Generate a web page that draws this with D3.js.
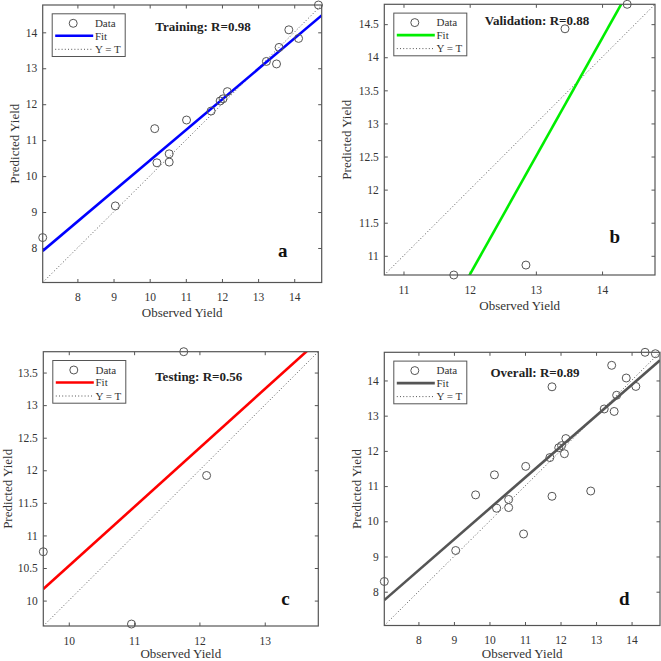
<!DOCTYPE html>
<html>
<head>
<meta charset="utf-8">
<script src="https://cdn.jsdelivr.net/npm/d3@7"></script>
<style>
  body { margin: 0; background: #fff; }
  svg text { font-family: "Liberation Serif", "Times New Roman", serif; }
</style>
</head>
<body>
<div id="chart"></div>
<script>
// observed / predicted yield per subset
const trainObs  = [7.04, 9.05, 10.14, 10.20, 10.54, 10.54, 11.02, 11.70, 11.95, 12.03, 12.15, 13.23, 13.51, 13.58, 13.85, 14.12, 14.67];
const trainPred = [8.29, 9.17, 11.32, 10.37, 10.62, 10.39, 11.56, 11.81, 12.09, 12.15, 12.35, 13.19, 13.12, 13.58, 14.07, 13.83, 14.76];
const valObs    = [11.76, 12.85, 13.44, 14.38];
const valPred   = [10.71, 10.86, 14.43, 14.80];
const testObs   = [9.61, 10.96, 11.76, 12.11];
const testPred  = [10.75, 9.64, 13.82, 11.92];

// fit lines: [slope, intercept]
const fitTrain = [0.849, 1.94];
const fitVal   = [1.786, -10.72];
const fitTest  = [0.905, 1.48];
const fitAll   = [0.878, 1.58];

const titles  = ['Training: R=0.98', 'Validation: R=0.88', 'Testing: R=0.56', 'Overall: R=0.89'];
const letters = ['a', 'b', 'c', 'd'];

const ticksA = [8, 9, 10, 11, 12, 13, 14];
const ticksBx = [11, 12, 13, 14];
const ticksBy = [11, 11.5, 12, 12.5, 13, 13.5, 14, 14.5];
const ticksCx = [10, 11, 12, 13];
const ticksCy = [10, 10.5, 11, 11.5, 12, 12.5, 13, 13.5];

const width = 661, height = 661;
const svg = d3.select('#chart').append('svg')
    .attr('width', width)
    .attr('height', height);

const panels = [
  { obs: trainObs, pred: trainPred, fit: fitTrain, color: '#0000ff', tx: ticksA, ty: ticksA,
    box: {x0: 42.7, x1: 321.7, y0: 5, y1: 282.5}, title: [203, 30.5], letter: [282.8, 256.7], ylab: 23.5 },
  { obs: valObs, pred: valPred, fit: fitVal, color: '#00ee00', tx: ticksBx, ty: ticksBy,
    box: {x0: 384.3, x1: 655, y0: 4.3, y1: 275}, title: [537, 25], letter: [614.7, 243.3], ylab: 33.5 },
  { obs: testObs, pred: testPred, fit: fitTest, color: '#ff0000', tx: ticksCx, ty: ticksCy,
    box: {x0: 43.3, x1: 318.3, y0: 351.7, y1: 626}, title: [198.7, 380.5], letter: [285.5, 605], ylab: 31.5 },
  { obs: trainObs.concat(valObs, testObs), pred: trainPred.concat(valPred, testPred), fit: fitAll, color: '#555555', tx: ticksA, ty: ticksA,
    box: {x0: 384.3, x1: 660, y0: 352.3, y1: 625.5}, title: [535, 376.5], letter: [624.3, 605], ylab: 23.5 }
];

const axisColor = '#555';
const textColor = '#333';
const fmt = d3.format('~g');

panels.forEach((p, i) => {
  const b = p.box;
  const ext = d3.extent(p.obs.concat(p.pred));
  const x = d3.scaleLinear().domain(ext).range([b.x0, b.x1]);
  const y = d3.scaleLinear().domain(ext).range([b.y1, b.y0]);
  const g = svg.append('g');

  const clipId = 'clip' + i;
  svg.append('clipPath').attr('id', clipId)
    .append('rect')
      .attr('x', b.x0).attr('y', b.y0)
      .attr('width', b.x1 - b.x0).attr('height', b.y1 - b.y0);

  // axes with inward ticks, mirrored on top / right
  const styleAxis = a => {
    a.select('.domain').remove();
    a.selectAll('line').attr('stroke', axisColor);
    a.selectAll('text').attr('fill', textColor).attr('font-size', 11.5)
      .attr('font-family', '"Liberation Serif", serif');
  };
  g.append('g').attr('transform', `translate(0,${b.y1})`)
    .call(d3.axisBottom(x).tickValues(p.tx).tickFormat(fmt).tickSizeInner(-3.5).tickSizeOuter(0).tickPadding(10.5))
    .call(styleAxis);
  g.append('g').attr('transform', `translate(${b.x0},0)`)
    .call(d3.axisLeft(y).tickValues(p.ty).tickFormat(fmt).tickSizeInner(-3.5).tickSizeOuter(0).tickPadding(5.5))
    .call(styleAxis);
  g.append('g').attr('transform', `translate(0,${b.y0})`)
    .call(d3.axisTop(x).tickValues(p.tx).tickSizeInner(-3.5).tickSizeOuter(0).tickFormat(''))
    .call(styleAxis);
  g.append('g').attr('transform', `translate(${b.x1},0)`)
    .call(d3.axisRight(y).tickValues(p.ty).tickSizeInner(-3.5).tickSizeOuter(0).tickFormat(''))
    .call(styleAxis);

  // Y = T line
  g.append('line')
    .attr('clip-path', `url(#${clipId})`)
    .attr('x1', x(ext[0])).attr('y1', y(ext[0]))
    .attr('x2', x(ext[1])).attr('y2', y(ext[1]))
    .attr('stroke', '#555').attr('stroke-width', 1)
    .attr('stroke-dasharray', '1,2.2');

  // fit line
  const f = v => p.fit[0] * v + p.fit[1];
  g.append('line')
    .attr('clip-path', `url(#${clipId})`)
    .attr('x1', x(ext[0])).attr('y1', y(f(ext[0])))
    .attr('x2', x(ext[1])).attr('y2', y(f(ext[1])))
    .attr('stroke', p.color).attr('stroke-width', 2.6);

  // frame
  g.append('rect')
    .attr('x', b.x0).attr('y', b.y0)
    .attr('width', b.x1 - b.x0).attr('height', b.y1 - b.y0)
    .attr('fill', 'none').attr('stroke', axisColor).attr('stroke-width', 1.2);

  // data circles
  g.append('g').selectAll('circle')
    .data(p.obs.map((o, k) => [o, p.pred[k]]))
    .join('circle')
      .attr('cx', d => x(d[0]))
      .attr('cy', d => y(d[1]))
      .attr('r', 4)
      .attr('fill', 'none')
      .attr('stroke', '#555')
      .attr('stroke-width', 1);

  // labels
  g.append('text')
    .attr('x', (b.x0 + b.x1) / 2).attr('y', Math.min(b.y1 + 34.5, 657.5))
    .attr('text-anchor', 'middle').attr('font-size', 13).attr('fill', textColor)
    .text('Observed Yield');
  g.append('text')
    .attr('transform', `translate(${b.x0 - p.ylab},${(b.y0 + b.y1) / 2}) rotate(-90)`)
    .attr('text-anchor', 'middle').attr('font-size', 13).attr('fill', textColor)
    .text('Predicted Yield');
  g.append('text')
    .attr('x', p.title[0]).attr('y', p.title[1])
    .attr('text-anchor', 'middle').attr('font-size', 13).attr('font-weight', 'bold')
    .attr('fill', '#222')
    .text(titles[i]);
  g.append('text')
    .attr('x', p.letter[0]).attr('y', p.letter[1])
    .attr('text-anchor', 'middle').attr('font-size', 19).attr('font-weight', 'bold')
    .attr('fill', '#111')
    .text(letters[i]);

  // legend
  const lx = b.x0 + 9.5, ly = b.y0 + 8.8;
  const lg = g.append('g').attr('transform', `translate(${lx},${ly})`);
  lg.append('rect').attr('width', 73).attr('height', 42.7)
    .attr('fill', '#fff').attr('stroke', axisColor).attr('stroke-width', 1);
  lg.append('circle').attr('cx', 21).attr('cy', 9.5).attr('r', 4)
    .attr('fill', 'none').attr('stroke', '#555');
  lg.append('line').attr('x1', 3).attr('x2', 41).attr('y1', 22).attr('y2', 22)
    .attr('stroke', p.color).attr('stroke-width', 2.6);
  lg.append('line').attr('x1', 3).attr('x2', 41).attr('y1', 35.5).attr('y2', 35.5)
    .attr('stroke', '#555').attr('stroke-dasharray', '1,2.2');
  lg.selectAll('text.lab')
    .data(['Data', 'Fit', 'Y = T'])
    .join('text')
      .attr('class', 'lab')
      .attr('x', 42.7)
      .attr('y', (d, k) => [9.5, 22, 35.5][k])
      .attr('dy', '0.35em')
      .attr('font-size', 11)
      .attr('fill', textColor)
      .text(d => d);
});
</script>
</body>
</html>
